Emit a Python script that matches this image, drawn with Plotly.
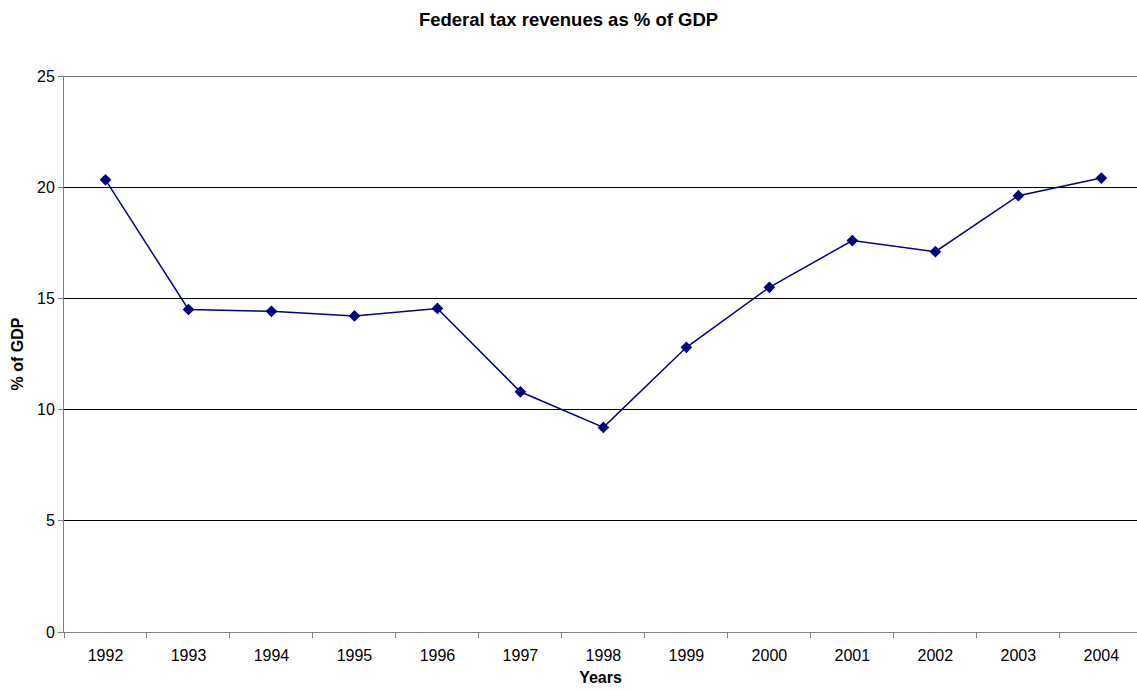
import plotly.graph_objects as go

years = ["1992", "1993", "1994", "1995", "1996", "1997", "1998",
         "1999", "2000", "2001", "2002", "2003", "2004"]
pct_gdp = [20.33, 14.5, 14.42, 14.21, 14.55, 10.8, 9.2,
           12.8, 15.5, 17.6, 17.1, 19.62, 20.41]
y_max = 25

fig = go.Figure()
fig.add_trace(go.Scatter(
    x=years, y=pct_gdp, mode="lines+markers",
    line=dict(color="#000080", width=1.5),
    marker=dict(symbol="diamond", size=9, color="#000080"),
    showlegend=False,
))

font_family = "Liberation Sans, Arial, sans-serif"
fig.update_layout(
    width=1137, height=691,
    margin=dict(l=64, r=0, t=76, b=59),
    paper_bgcolor="white", plot_bgcolor="white",
    font=dict(family=font_family, size=16, color="black"),
    title=dict(text="<b>Federal tax revenues as % of GDP</b>",
               x=0.5, xref="container", xanchor="center",
               y=1 - 20 / 691, yref="container", yanchor="middle",
               font=dict(size=18.5)),
)
# top gridline at the upper end of the value axis
fig.add_shape(type="line", xref="paper", x0=0, x1=1, yref="y",
              y0=y_max, y1=y_max, line=dict(color="black", width=1),
              layer="below")
fig.update_xaxes(
    type="category", range=[-0.5, 12.43],
    tickson="boundaries", ticks="outside", ticklen=5, tickcolor="#808080",
    showline=True, linecolor="#808080", linewidth=1,
    showgrid=False, zeroline=False, ticklabelstandoff=9,
    title=dict(text="<b>Years</b>", font=dict(size=16), standoff=8),
)
fig.update_yaxes(
    range=[0, y_max], dtick=5, ticks="outside", ticklen=5, tickcolor="#808080",
    showline=True, linecolor="#808080", linewidth=1,
    showgrid=True, gridcolor="black", gridwidth=1, zeroline=False,
    title=dict(text="<b>% of GDP</b>", font=dict(size=16), standoff=9),
)

fig.write_html("out.html")
